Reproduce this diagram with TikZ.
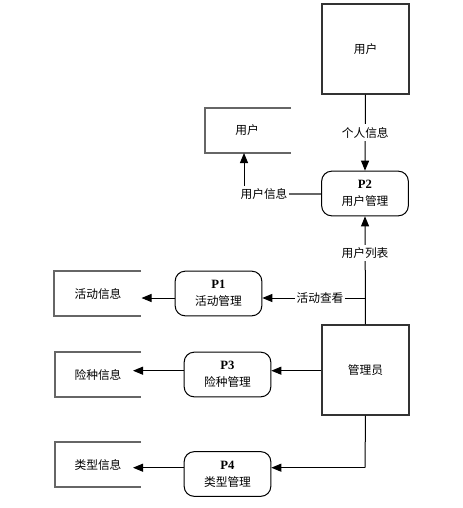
\documentclass[tikz,border=0pt]{standalone}
\usepackage{fontspec}
\setmainfont{Liberation Serif}
\newfontfamily\cjk{Noto Sans CJK SC}
\usetikzlibrary{arrows.meta}
\begin{document}
\begin{tikzpicture}[x=0.75pt,y=-0.75pt,
  every node/.style={font=\cjk\fontsize{8.8}{12.5}\selectfont, inner sep=0pt},
  entity/.style={draw=black!80, line width=0.8pt, minimum width=65.25pt, minimum height=67.5pt},
  proc/.style={draw=black, line width=0.75pt, rounded corners=7.5pt, minimum width=65pt, minimum height=33.5pt, align=center},
  storeline/.style={draw=black!60, line width=1.1pt},
  flow/.style={draw=black, line width=0.75pt, -{Triangle[length=7.5pt,width=6pt]}},
  flowline/.style={draw=black, line width=0.75pt},
  lbl/.style={fill=white, inner xsep=1pt, inner ysep=2pt}
]
\useasboundingbox (0,0) rectangle (462,508);
% entities
\node[entity] (user) at (365.5,49) {用户};
\node[entity] (admin) at (365.5,370) {管理员};
% processes
\node[proc] (p2) at (365,193.5) {{\rmfamily\bfseries\fontsize{9.5}{12.5}\selectfont P2}\\用户管理};
\node[proc] (p1) at (218.5,293.5) {{\rmfamily\bfseries\fontsize{9.5}{12.5}\selectfont P1}\\活动管理};
\node[proc] (p3) at (227.5,374.5) {{\rmfamily\bfseries\fontsize{9.5}{12.5}\selectfont P3}\\险种管理};
\node[proc] (p4) at (227.5,474) {{\rmfamily\bfseries\fontsize{9.5}{12.5}\selectfont P4}\\类型管理};
% data stores
\draw[storeline] (291,108) -- (205,108) -- (205,153) -- (291,153);
\node (su) at (247,130.5) {用户};
\draw[storeline] (141,271) -- (54,271) -- (54,316) -- (141,316);
\node (sa) at (98,293.5) {活动信息};
\draw[storeline] (141,352) -- (55,352) -- (55,397) -- (141,397);
\node (sx) at (98,374.5) {险种信息};
\draw[storeline] (141,442) -- (55,442) -- (55,487) -- (141,487);
\node (st) at (98,464.5) {类型信息};
% coordinates
\coordinate (subot) at (244,153);
\coordinate (corner) at (244,194);
\coordinate (branch) at (365,298);
\coordinate (satip) at (141.5,298);
\coordinate (sxtip) at (133,370.7);
\coordinate (sttip) at (133,467.7);
\coordinate (p4corner) at (365,467.7);
% flows
\draw[flow] (user.south) -- node[lbl] {个人信息} (p2.north);
\draw[draw=black!60, line width=1.3pt] (p2.west |- corner) -- (corner);
\draw[flow] (corner) -- (subot);
\node[lbl] at (264,194) {用户信息};
\draw[flow] (admin.north) -- (p2.south);
\node[lbl] at (365,253) {用户列表};
\draw[flow] (branch) -- (p1.east |- branch);
\node[lbl] at (320,298) {活动查看};
\draw[flow] (p1.west |- branch) -- (satip);
\draw[flow] (admin.west |- sxtip) -- (p3.east |- sxtip);
\draw[flow] (p3.west |- sxtip) -- (sxtip);
\draw[flowline] (admin.south) -- (p4corner);
\draw[flow] (p4corner) -- (p4.east |- p4corner);
\draw[flow] (p4.west |- sttip) -- (sttip);
\end{tikzpicture}
\end{document}
